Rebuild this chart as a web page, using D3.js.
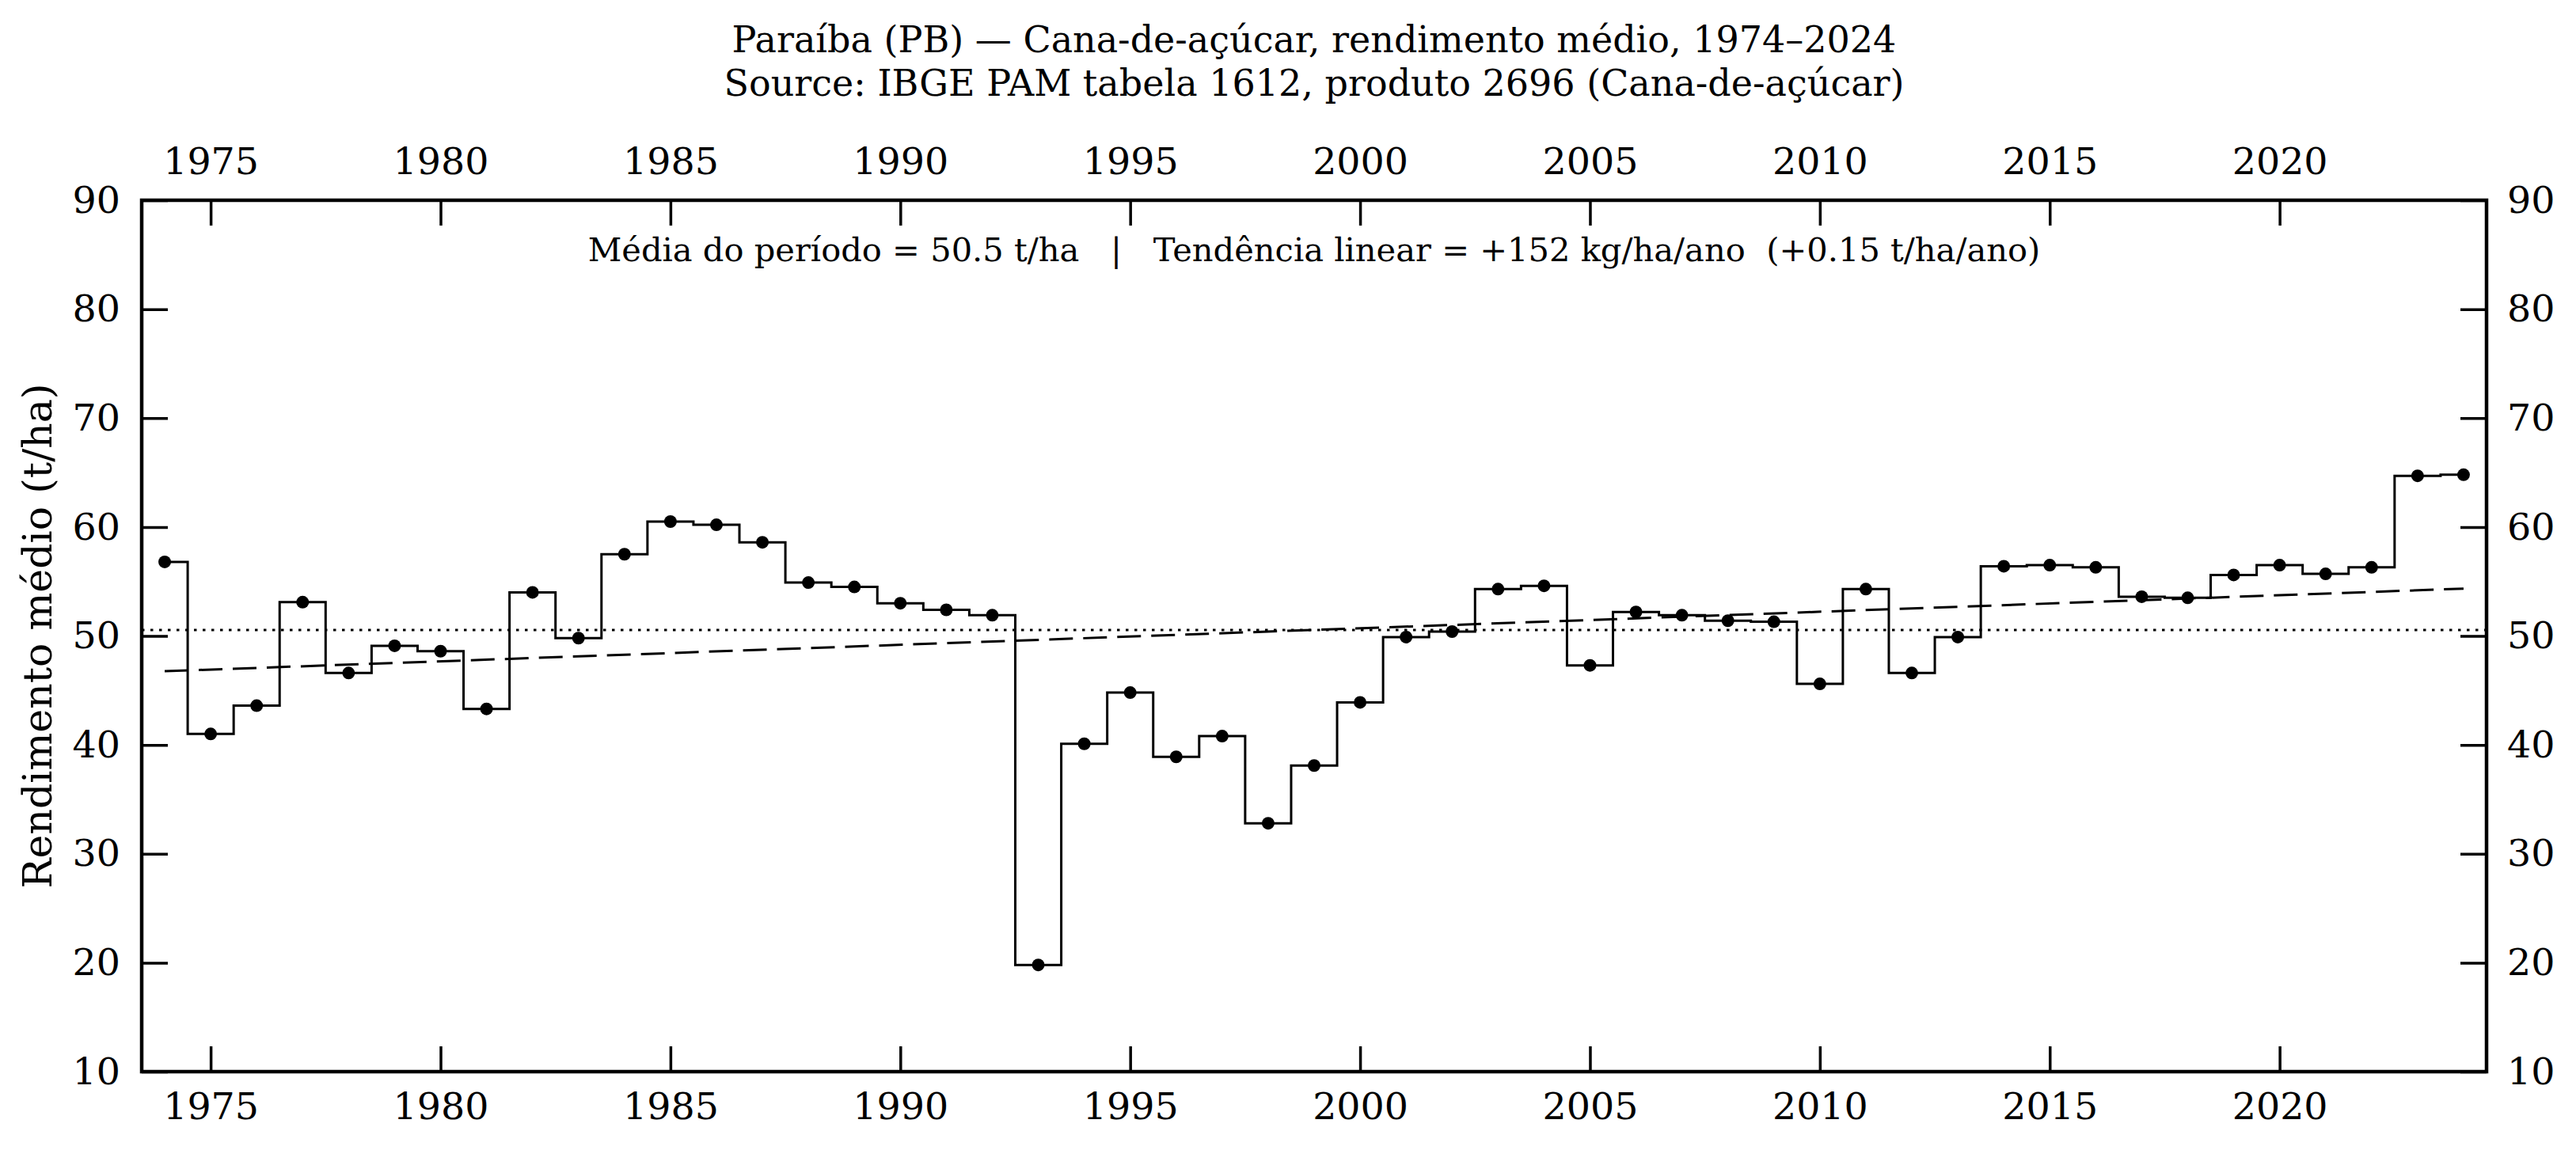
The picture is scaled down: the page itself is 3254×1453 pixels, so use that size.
<!DOCTYPE html>
<html>
<head>
<meta charset="utf-8">
<script src="https://cdn.jsdelivr.net/npm/d3@7"></script>
<style>
  html, body { margin: 0; padding: 0; background: #fff; }
  svg { display: block; }
</style>
</head>
<body>
<div id="chart"></div>
<script>
const width = 3254;
const height = 1453;
const margin = { top: 253, right: 113, bottom: 99, left: 179 };
const fontFamily = "'DejaVu Serif', serif";

const years = [
  1974, 1975, 1976, 1977, 1978, 1979, 1980, 1981, 1982, 1983,
  1984, 1985, 1986, 1987, 1988, 1989, 1990, 1991, 1992, 1993,
  1994, 1995, 1996, 1997, 1998, 1999, 2000, 2001, 2002, 2003,
  2004, 2005, 2006, 2007, 2008, 2009, 2010, 2011, 2012, 2013,
  2014, 2015, 2016, 2017, 2018, 2019, 2020, 2021, 2022, 2023,
  2024,
];

// t/ha
const yields = [
  56.8, 41.0, 43.6, 53.1, 46.6, 49.1, 48.6, 43.3, 54.0, 49.8,
  57.5, 60.5, 60.2, 58.6, 54.9, 54.5, 53.0, 52.4, 51.9, 19.8,
  40.1, 44.8, 38.9, 40.8, 32.8, 38.1, 43.9, 49.9, 50.4, 54.3,
  54.6, 47.3, 52.2, 51.9, 51.4, 51.3, 45.6, 54.3, 46.6, 49.9,
  56.4, 56.5, 56.3, 53.6, 53.5, 55.6, 56.5, 55.7, 56.3, 64.7,
  64.8,
];

const xTicks = [1975, 1980, 1985, 1990, 1995, 2000, 2005, 2010, 2015, 2020];
const yTicks = [10, 20, 30, 40, 50, 60, 70, 80, 90];
const xDomain = [1973.5, 2024.5];
const yDomain = [10, 90];

const titleLines = [
  "Paraíba (PB) — Cana-de-açúcar, rendimento médio, 1974–2024",
  "Source: IBGE PAM tabela 1612, produto 2696 (Cana-de-açúcar)",
];
const statsText =
  "Média do período = 50.5 t/ha   |   Tendência linear = +152 kg/ha/ano  (+0.15 t/ha/ano)";
const yLabel = "Rendimento médio (t/ha)";

const data = years.map((year, i) => ({ year, value: yields[i] }));

const svg = d3
  .select("#chart")
  .append("svg")
  .attr("width", width)
  .attr("height", height)
  .attr("viewBox", `0 0 ${width} ${height}`)
  .style("font-family", fontFamily);

svg.append("rect").attr("width", width).attr("height", height).attr("fill", "#fff");

const x = d3
  .scaleLinear()
  .domain(xDomain)
  .range([margin.left, width - margin.right]);

const y = d3
  .scaleLinear()
  .domain(yDomain)
  .range([height - margin.bottom, margin.top]);

const plotLeft = x.range()[0];
const plotRight = x.range()[1];
const plotTop = y.range()[1];
const plotBottom = y.range()[0];

// mean + least-squares trend
const meanValue = d3.mean(data, (d) => d.value);
const meanYear = d3.mean(data, (d) => d.year);
const slope =
  d3.sum(data, (d) => (d.year - meanYear) * (d.value - meanValue)) /
  d3.sum(data, (d) => (d.year - meanYear) ** 2);
const trendAt = (yr) => meanValue + slope * (yr - meanYear);

const plot = svg.append("g");

plot
  .append("line")
  .attr("x1", plotLeft)
  .attr("x2", plotRight)
  .attr("y1", y(meanValue))
  .attr("y2", y(meanValue))
  .attr("stroke", "#000")
  .attr("stroke-width", 3)
  .attr("stroke-dasharray", "3.5,7.5");

const firstYear = d3.min(years);
const lastYear = d3.max(years);

plot
  .append("line")
  .attr("x1", x(firstYear))
  .attr("x2", x(lastYear))
  .attr("y1", y(trendAt(firstYear)))
  .attr("y2", y(trendAt(lastYear)))
  .attr("stroke", "#000")
  .attr("stroke-width", 3)
  .attr("stroke-dasharray", "30,13");

const stepLine = d3
  .line()
  .x((d) => x(d.year))
  .y((d) => y(d.value))
  .curve(d3.curveStep);

plot
  .append("path")
  .datum(data)
  .attr("d", stepLine)
  .attr("fill", "none")
  .attr("stroke", "#000")
  .attr("stroke-width", 3)
  .attr("stroke-linejoin", "miter");

plot
  .selectAll(".dot")
  .data(data)
  .join("circle")
  .attr("class", "dot")
  .attr("cx", (d) => x(d.year))
  .attr("cy", (d) => y(d.value))
  .attr("r", 8)
  .attr("fill", "#000");

// axes, ticks pointing inward on all four sides
function styleAxis(g) {
  g.select(".domain").remove();
  g.selectAll(".tick line").attr("stroke", "#000").attr("stroke-width", 3.5);
  g.selectAll(".tick text")
    .attr("fill", "#000")
    .style("font-family", fontFamily)
    .style("font-size", "47.5px");
}

svg
  .append("g")
  .attr("transform", `translate(0, ${plotBottom})`)
  .call(
    d3.axisBottom(x).tickValues(xTicks).tickFormat(d3.format("d"))
      .tickSizeInner(-32).tickSizeOuter(0).tickPadding(26),
  )
  .call(styleAxis);

svg
  .append("g")
  .attr("transform", `translate(0, ${plotTop})`)
  .call(
    d3.axisTop(x).tickValues(xTicks).tickFormat(d3.format("d"))
      .tickSizeInner(-32).tickSizeOuter(0).tickPadding(33),
  )
  .call(styleAxis);

svg
  .append("g")
  .attr("transform", `translate(${plotLeft}, 0)`)
  .call(
    d3.axisLeft(y).tickValues(yTicks).tickFormat(d3.format("d"))
      .tickSizeInner(-33).tickSizeOuter(0).tickPadding(27),
  )
  .call(styleAxis);

svg
  .append("g")
  .attr("transform", `translate(${plotRight}, 0)`)
  .call(
    d3.axisRight(y).tickValues(yTicks).tickFormat(d3.format("d"))
      .tickSizeInner(-33).tickSizeOuter(0).tickPadding(26),
  )
  .call(styleAxis);

// frame
svg
  .append("rect")
  .attr("x", plotLeft)
  .attr("y", plotTop)
  .attr("width", plotRight - plotLeft)
  .attr("height", plotBottom - plotTop)
  .attr("fill", "none")
  .attr("stroke", "#000")
  .attr("stroke-width", 4.5);

const centerX = (plotLeft + plotRight) / 2;

svg
  .append("g")
  .selectAll("text")
  .data(titleLines)
  .join("text")
  .attr("x", centerX)
  .attr("y", (d, i) => 66 + i * 55)
  .attr("text-anchor", "middle")
  .style("font-size", "46px")
  .text((d) => d);

svg
  .append("text")
  .attr("x", centerX)
  .attr("y", 330)
  .attr("text-anchor", "middle")
  .style("font-size", "41.6px")
  .style("white-space", "pre")
  .text(statsText);

svg
  .append("text")
  .attr("transform", `translate(65, ${(plotTop + plotBottom) / 2}) rotate(-90)`)
  .attr("text-anchor", "middle")
  .style("font-size", "50.5px")
  .text(yLabel);
</script>
</body>
</html>
